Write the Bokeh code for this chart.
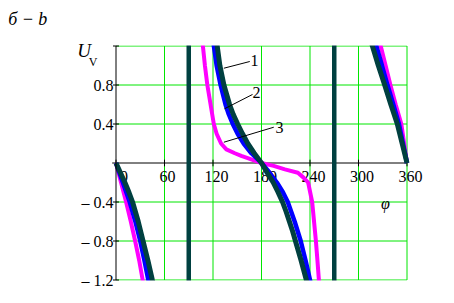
from bokeh.plotting import figure
from bokeh.models import Range1d
from bokeh.core.properties import value
from bokeh.embed import file_html
from bokeh.resources import INLINE

nan = float("nan")

# ---- data ----
# curve 1 (dark teal), branches separated by NaN
phi_1 = [0, 5.5, 11, 16, 20.5, 27.5, 33.5, 39.5, 45, 48, nan,
         123.6, 125.2, 128.5, 133.5, 140.5, 145, 150.5, 156.5, 163, 171, 180,
         187, 194.5, 200.5, 206, 210.5, 214.5, 218.5, 222, 229, 235.5, 238.7, nan,
         313.5, 317.2, 324.5, 332.4, 340, 348, 354, 360]
u_1 = [0, -0.1, -0.2, -0.3, -0.4, -0.6, -0.8, -1.0, -1.2, -1.3, nan,
       1.3, 1.2, 1.0, 0.8, 0.6, 0.5, 0.4, 0.3, 0.2, 0.1, 0,
       -0.1, -0.2, -0.3, -0.4, -0.5, -0.6, -0.7, -0.8, -1.0, -1.2, -1.3, nan,
       1.3, 1.2, 1.0, 0.8, 0.6, 0.4, 0.2, 0]

# curve 2 (blue)
phi_2 = [0, 8.5, 17, 24, 30, 35.2, 40, 42.5, nan,
         119.8, 121.1, 124.5, 129.4, 135.5, 139.5, 144.5, 150.5, 158, 167.5, 180,
         190, 199, 206.5, 212.5, 221, 228.5, 234.5, 240, 242.8, nan,
         320, 322, 329, 335.8, 343, 350, 355, 360]
u_2 = [0, -0.2, -0.4, -0.6, -0.8, -1.0, -1.2, -1.3, nan,
       1.3, 1.2, 1.0, 0.8, 0.6, 0.5, 0.4, 0.3, 0.2, 0.1, 0,
       -0.1, -0.2, -0.3, -0.4, -0.6, -0.8, -1.0, -1.2, -1.3, nan,
       1.3, 1.2, 1.0, 0.8, 0.6, 0.4, 0.2, 0]

# curve 3 (magenta)
phi_3 = [0, 6.2, 12.5, 18.3, 23.7, 28.7, 33, 35, nan,
         106, 107.5, 110, 113, 117, 121, 124.5, 130, 136.5, 147, 155, 163, 171.5, 180,
         195, 209, 225, 232, 237.7, 242.7, 245, 247.3, 249.2, 251, 252, nan,
         325, 327.5, 333.5, 339.5, 346, 353, 356.5, 360]
u_3 = [0, -0.2, -0.4, -0.6, -0.8, -1.0, -1.2, -1.3, nan,
       1.3, 1.2, 1.0, 0.8, 0.6, 0.4, 0.3, 0.2, 0.14, 0.1, 0.073, 0.05, 0.025, 0,
       -0.03, -0.065, -0.1, -0.15, -0.2, -0.4, -0.6, -0.8, -1.0, -1.2, -1.3, nan,
       1.3, 1.2, 1.0, 0.8, 0.6, 0.4, 0.2, 0]

asym_phi = [90, 270]

x_ticks = [0, 60, 120, 180, 240, 300, 360]
x_labels = ["0", "60", "120", "180", "240", "300", "360"]
y_ticks = [-1.2, -0.8, -0.4, 0.4, 0.8, 1.2]
y_labels = ["\u2013 1.2", "\u2013 0.8", "\u2013 0.4", "0.4", "0.8", ""]

DARK = "#004040"
BLUE = "#0000ff"
MAGENTA = "#ff00ff"
GREEN = "#00e600"
SERIF = "Liberation Serif"

# the frame covers the whole page; the chart box is drawn in data space
PX_PER_DEG = 291.0 / 360.0
PX_PER_U = 97.5
X0_PX, Y0_PX = 115.5, 162.5
W, H = 454, 303

xr0, xr1 = -X0_PX / PX_PER_DEG, (W - X0_PX) / PX_PER_DEG
yr0, yr1 = -(H - Y0_PX) / PX_PER_U, Y0_PX / PX_PER_U

p = figure(width=W, height=H, x_range=Range1d(xr0, xr1), y_range=Range1d(yr0, yr1),
           output_backend="svg", toolbar_location=None, title=None,
           x_axis_location=None, y_axis_location=None,
           min_border_left=0, min_border_right=0, min_border_top=0, min_border_bottom=0)
p.background_fill_color = "white"
p.border_fill_color = "white"
p.outline_line_color = None
p.xgrid.visible = False
p.ygrid.visible = False

ymin, ymax = y_ticks[0], y_ticks[-1]
xmin, xmax = x_ticks[0], x_ticks[-1]

# grid
p.segment(x0=x_ticks[1:], y0=[ymin] * 6, x1=x_ticks[1:], y1=[ymax] * 6,
          line_color=GREEN, line_width=1)
p.segment(x0=[xmin] * len(y_ticks), y0=y_ticks, x1=[xmax] * len(y_ticks), y1=y_ticks,
          line_color=GREEN, line_width=1)

# x axis at U = 0
p.segment(x0=[xmin - 4.7], y0=[0], x1=[xmax], y1=[0], line_color="black", line_width=1)
p.segment(x0=x_ticks, y0=[-0.034] * len(x_ticks), x1=x_ticks, y1=[0.034] * len(x_ticks),
          line_color="black", line_width=1)
p.text(x=x_ticks, y=[0] * len(x_ticks), text=x_labels, text_font=value(SERIF),
       text_font_size="16px", text_align="center", text_baseline="middle",
       x_offset=[8, 3, 3.5, 3.5, 3.5, 3.5, 3.5], y_offset=13.5, text_color="black")

# curves
p.line(phi_3, u_3, line_color=MAGENTA, line_width=4)
p.line(phi_2, u_2, line_color=BLUE, line_width=4.5)
p.line(phi_1, u_1, line_color=DARK, line_width=5)
for a in asym_phi:
    p.line([a, a], [-1.3, 1.3], line_color=DARK, line_width=4.5)

# white masks above and below the chart box
edge = 0.5 / PX_PER_U
p.quad(left=[xr0, xr0], right=[xr1, xr1], bottom=[ymax + edge, yr0],
       top=[yr1, ymin - edge], fill_color="white", line_color=None)

# y axis
d = 3.7  # ~3 px in degrees
p.segment(x0=[xmin], y0=[ymin], x1=[xmin], y1=[ymax], line_color="black", line_width=1)
p.segment(x0=[xmin - d] * len(y_ticks), y0=y_ticks, x1=[xmin + d] * len(y_ticks), y1=y_ticks,
          line_color="black", line_width=1)
p.text(x=[xmin] * len(y_ticks), y=y_ticks, text=y_labels, text_font=value(SERIF),
       text_font_size="16px", text_align="right", text_baseline="middle",
       x_offset=-2.5, text_color="black")

# curve annotations
p.segment(x0=[133.4, 134.2, 133.4], y0=[0.972, 0.556, 0.213],
          x1=[165.5, 168.9, 195.2], y1=[1.041, 0.703, 0.367],
          line_color="black", line_width=1)
p.text(x=[171.3, 173.8, 202.3], y=[1.048, 0.723, 0.367], text=["1", "2", "3"],
       text_font=value(SERIF), text_font_size="16px", text_align="center",
       text_baseline="middle", text_color="black")

# axis names and caption
p.text(x=[333.4], y=[-0.415], text=["\u03c6"], text_font=value(SERIF),
       text_font_size="16px", text_font_style="italic", text_align="center",
       text_baseline="middle", text_color="black")
p.text(x=[-133.4], y=[1.476], text=["\u0431 \u2212 b"], text_font=value(SERIF),
       text_font_size="18px", text_font_style="italic", text_align="left",
       text_baseline="middle", text_color="black")
p.text(x=[-48.0], y=[1.151], text=["U"], text_font=value(SERIF),
       text_font_size="19px", text_font_style="italic", text_align="left",
       text_baseline="middle", text_color="black")
p.text(x=[-33.6], y=[1.041], text=["V"], text_font=value(SERIF),
       text_font_size="12px", text_align="left",
       text_baseline="middle", text_color="black")

open("out.html", "w").write(file_html(p, INLINE))
